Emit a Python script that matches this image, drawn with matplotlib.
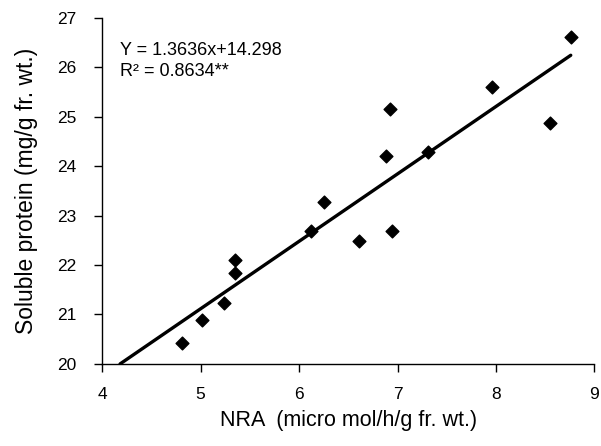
import numpy as np
import matplotlib
matplotlib.use("Agg")
import matplotlib.pyplot as plt

plt.rcParams['font.family'] = ['Liberation Sans', 'DejaVu Sans']

# NRA vs soluble protein
nra = [4.81, 5.01, 5.24, 5.35, 5.35, 6.12, 6.25, 6.61, 6.94,
       6.88, 6.92, 7.31, 7.96, 8.55, 8.76]
protein = [20.42, 20.88, 21.23, 21.84, 22.11, 22.68, 23.27, 22.48, 22.68,
           24.20, 25.16, 24.28, 25.60, 24.87, 26.61]

slope = 1.3636
intercept = 14.298
r2_text = "R\u00b2 = 0.8634**"
eq_text = "Y = 1.3636x+14.298"

fig = plt.figure(figsize=(6.01, 4.46), dpi=100)
ax = fig.add_axes([0.170, 0.184, 0.819, 0.776])

ax.scatter(nra, protein, marker='D', s=6.5**2, color='black', zorder=3)

x0 = (20 - intercept) / slope
x1 = max(nra)
ax.plot([x0, x1], [slope * x0 + intercept, slope * x1 + intercept],
        color='black', linewidth=2.4, solid_capstyle='round')

ax.set_xlim(4, 9)
ax.set_ylim(20, 27)
ax.set_xticks([4, 5, 6, 7, 8, 9])
ax.set_yticks(range(20, 28))

for s in ['top', 'right']:
    ax.spines[s].set_visible(False)
for s in ['left', 'bottom']:
    ax.spines[s].set_linewidth(1.0)

ax.tick_params(axis='x', direction='out', length=5.5, width=1, labelsize=12.5, pad=11)
ax.tick_params(axis='y', direction='out', length=5.5, width=1, labelsize=12.5, pad=13)

ax.set_xlabel("NRA  (micro mol/h/g fr. wt.)", fontsize=15.5)
ax.set_ylabel("Soluble protein (mg/g fr. wt.)", fontsize=16.5)
ax.xaxis.set_label_coords(0.5, -0.132)
ax.yaxis.set_label_coords(-0.13, 0.5)

ax.text(0.037, 0.893, eq_text, transform=ax.transAxes, fontsize=13, va='baseline')
ax.text(0.037, 0.832, r2_text, transform=ax.transAxes, fontsize=13, va='baseline')

fig.savefig("out.png", dpi=100)
